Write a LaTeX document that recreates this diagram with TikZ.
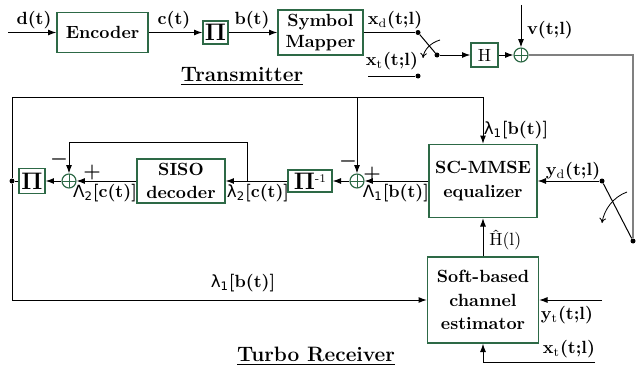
\documentclass[tikz,border=0pt]{standalone}
\usepackage[no-math]{fontspec}
\newfontfamily\gk[Scale=0.95]{DejaVu Sans}
\usepackage{amsmath}
\usetikzlibrary{arrows.meta}
\definecolor{bx}{RGB}{45,105,70}
\newcommand{\bigpi}{{\fontsize{14}{14}\selectfont$\mathbf{\Pi}$}}
\begin{document}
\begin{tikzpicture}[x=0.6pt,y=-0.6pt, font=\fontsize{10.6}{13}\selectfont\bfseries,
 blk/.style={draw=bx, line width=0.8pt, inner sep=0pt, align=center},
 sum/.style={draw=bx, circle, line width=0.7pt, minimum size=8.4pt, inner sep=0pt,
   path picture={\draw[bx,line width=0.6pt] (path picture bounding box.north) -- (path picture bounding box.south) (path picture bounding box.west) -- (path picture bounding box.east);}},
 wire/.style={line width=0.6pt},
 arr/.style={wire, -{Latex[length=5pt,width=3.6pt]}},
 dot/.style={circle, fill, inner sep=0pt, minimum size=3pt},
 lbl/.style={inner sep=0pt},
 sgn/.style={inner sep=0pt, font=\fontsize{11.5}{12}\selectfont\bfseries},
 sw/.style={line width=0.5pt, -{To[length=3pt,width=4pt]}}]
\useasboundingbox (0,0) rectangle (637,367);
% ---------------- Transmitter
\node[blk, minimum width=54.6pt, minimum height=24pt] (enc) at (102.5,32.5) {Encoder};
\node[blk, minimum width=15pt, minimum height=13.8pt] (pi1) at (215.5,32.5) {\bigpi};
\node[blk, minimum width=51pt, minimum height=27pt] (map) at (320.5,32.5) {Symbol\\Mapper};
\coordinate (din) at (8,32.5);
\draw[arr] (din) -- (enc);
\draw[arr] (enc) -- (pi1);
\draw[arr] (pi1) -- (map);
\node[dot] (s1a) at (418,32.5) {};
\node[dot] (s1b) at (418,76) {};
\node[dot] (s1c) at (437,55) {};
\coordinate (xtin) at (368,76);
\draw[wire] (map.east) -- (s1a);
\draw[wire] (xtin) -- (s1b);
\draw[wire] (s1a) -- (s1c);
\coordinate (a1s) at (440,40);
\coordinate (a1e) at (423,58);
\draw[sw] (a1s) .. controls (430,43) and (424,50) .. (a1e);
\node[blk, minimum width=16.2pt, minimum height=14.4pt, font=\fontsize{10.6}{13}\selectfont] (H) at (484.5,55) {H};
\node[sum] (add0) at (521,55) {};
\draw[arr] (s1c) -- (H);
\draw[arr] (H) -- (add0);
\coordinate (vin) at (521,5);
\draw[arr] (vin) -- (add0);
\coordinate (rc) at (633,55);
\node[dot] (s2b) at (633,241) {};
\draw[gray, line width=1.1pt] (add0) -- (rc) -- (s2b);
\node[lbl] (ld) at (34,20) {d(t)};
\node[lbl] (lc) at (174,20) {c(t)};
\node[lbl] (lb) at (252,20) {b(t)};
\node[lbl] (lxd) at (395,20) {x\textsubscript{\mdseries d}(t;l)};
\node[lbl] (lxt) at (392,61) {x\textsubscript{\mdseries t}(t;l)};
\node[lbl] (lv) at (550,30) {v(t;l)};
\node[lbl, font=\fontsize{12.5}{14}\selectfont\bfseries] (ltx) at (242,76) {\underline{Transmitter}};
% ---------------- Receiver
\node[blk, minimum width=15.6pt, minimum height=15pt] (pi2) at (32,181) {\bigpi};
\node[sum] (add1) at (69,181) {};
\node[blk, minimum width=52.8pt, minimum height=26.4pt] (siso) at (181,181) {SISO\\[1pt]decoder};
\node[blk, minimum width=26.4pt, minimum height=13.2pt] (pi3) at (310,181) {\bigpi\raisebox{0.8ex}{\mdseries\scriptsize -1}};
\node[sum] (add2) at (357,181) {};
\node[blk, minimum width=64.8pt, minimum height=43.8pt] (eq) at (483,181) {SC-MMSE\\[1pt]equalizer};
\node[blk, minimum width=66.6pt, minimum height=51.6pt] (est) at (483,300) {Soft-based\\[1pt]channel\\[1pt]estimator};
\node[dot] (j) at (12,181) {};
\coordinate (tl) at (12,97);
\coordinate (tr) at (483,97);
\coordinate (tm) at (357,97);
\coordinate (bl) at (12,300);
\draw[wire] (pi2) -- (j);
\draw[wire] (j) -- (tl) -- (tr);
\draw[arr] (tr) -- (eq);
\draw[arr] (tm) -- (add2);
\draw[arr] (j) -- (bl) -- (est);
\coordinate (fb) at (247,181);
\coordinate (fb1) at (247,142);
\coordinate (fb2) at (69,142);
\draw[arr] (pi3) -- (siso);
\draw[arr] (fb) -- (fb1) -- (fb2) -- (add1);
\draw[arr] (siso) -- (add1);
\draw[arr] (add1) -- (pi2);
\draw[arr] (add2) -- (pi3);
\draw[arr] (eq) -- (add2);
\node[dot] (s2a) at (602,181) {};
\draw[arr] (s2a) -- (eq);
\draw[wire] (s2a) -- (s2b);
\coordinate (a2s) at (627,192);
\coordinate (a2e) at (602,223);
\draw[sw] (a2s) .. controls (613,197) and (604,210) .. (a2e);
\draw[arr] (est) -- (eq);
\coordinate (ytin) at (602,300);
\draw[arr] (ytin) -- (est);
\coordinate (xtr) at (595,362);
\coordinate (xtr2) at (483,362);
\draw[arr] (xtr) -- (xtr2) -- (est);
% labels
\node[sgn] (l1) at (59,159) {$\boldsymbol{-}$};
\node[sgn] (l2) at (92,173) {$\boldsymbol{+}$};
\node[sgn] (l3) at (348,161) {$\boldsymbol{-}$};
\node[sgn] (l4) at (372,174) {$\boldsymbol{+}$};
\node[lbl] (lL2) at (105,193) {{\gk\mdseries Λ\textsubscript{2}}[c(t)]};
\node[lbl] (ll2) at (258,193) {{\gk\mdseries λ\textsubscript{2}}[c(t)]};
\node[lbl] (lL1) at (396,193) {{\gk\mdseries Λ\textsubscript{1}}[b(t)]};
\node[lbl] (ll1) at (516,130) {{\gk\mdseries λ\textsubscript{1}}[b(t)]};
\node[lbl] (ll1b) at (243,283) {{\gk\mdseries λ\textsubscript{1}}[b(t)]};
\node[lbl] (lyd) at (573,171) {y\textsubscript{\mdseries d}(t;l)};
\node[lbl, anchor=west, font=\fontsize{10.6}{13}\selectfont] (lH) at (489,240) {Ĥ(l)};
\node[lbl] (lyt) at (567,315) {y\textsubscript{\mdseries t}(t;l)};
\node[lbl] (lxt2) at (569,349) {x\textsubscript{\mdseries t}(t;l)};
\node[lbl, font=\fontsize{12.5}{14}\selectfont\bfseries] (lrx) at (316,356) {\underline{Turbo Receiver}};
\end{tikzpicture}
\end{document}
